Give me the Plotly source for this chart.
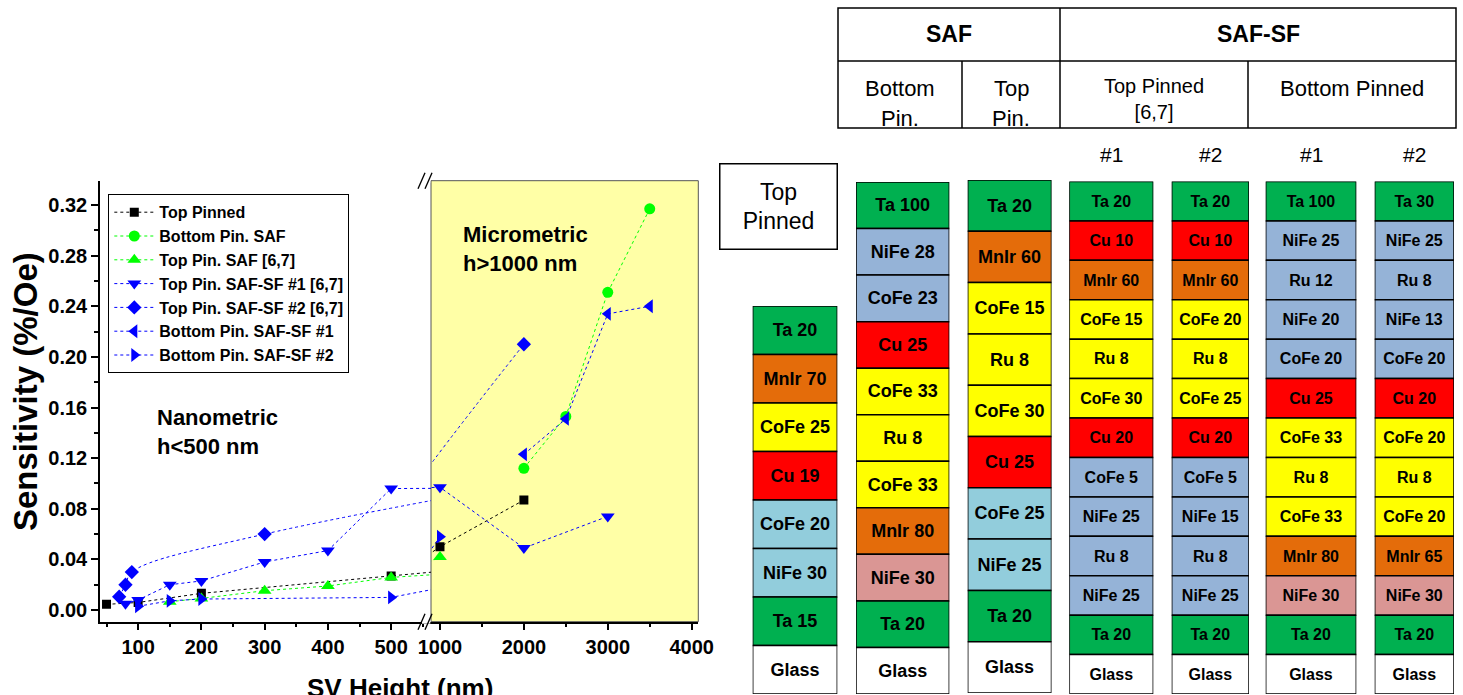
import plotly.graph_objects as go

W, H = 1463, 695

# ---------------- chart data ----------------
series_names = ["Top Pinned", "Bottom Pin. SAF", "Top Pin. SAF [6,7]",
                "Top Pin. SAF-SF #1 [6,7]", "Top Pin. SAF-SF #2 [6,7]",
                "Bottom Pin. SAF-SF #1", "Bottom Pin. SAF-SF #2"]
top_pinned_x = [50, 100, 200, 500, 1000, 2000]
top_pinned_y = [0.0045, 0.006, 0.0132, 0.0269, 0.050, 0.0869]
bottom_saf_x = [2000, 2500, 3000, 3500]
bottom_saf_y = [0.112, 0.153, 0.251, 0.317]
top_saf_x = [150, 200, 300, 400, 500, 1000]
top_saf_y = [0.0066, 0.0092, 0.0153, 0.019, 0.0258, 0.042]
top_sf1_x = [80, 100, 150, 200, 300, 400, 500, 1000, 2000, 3000]
top_sf1_y = [0.005, 0.008, 0.020, 0.023, 0.038, 0.047, 0.096, 0.097, 0.049, 0.074]
top_sf2_x = [70, 80, 90, 300, 2000]
top_sf2_y = [0.0105, 0.020, 0.030, 0.060, 0.210]
bottom_sf1_x = [2000, 2500, 3000, 3500]
bottom_sf1_y = [0.123, 0.151, 0.234, 0.240]
bottom_sf2_x = [100, 150, 200, 500, 1000]
bottom_sf2_y = [0.003, 0.0073, 0.0087, 0.010, 0.058]

nano_label = "Nanometric<br>h&lt;500 nm"
micro_label = "Micrometric<br>h&gt;1000 nm"
x_title = "SV Height (nm)"
y_title = "Sensitivity (%/Oe)"

# ---------------- layer stacks (top -> bottom) ----------------
stack_layers = [
    ["Ta 20", "MnIr 70", "CoFe 25", "Cu 19", "CoFe 20", "NiFe 30", "Ta 15", "Glass"],
    ["Ta 100", "NiFe 28", "CoFe 23", "Cu 25", "CoFe 33", "Ru 8", "CoFe 33", "MnIr 80", "NiFe 30", "Ta 20", "Glass"],
    ["Ta 20", "MnIr 60", "CoFe 15", "Ru 8", "CoFe 30", "Cu 25", "CoFe 25", "NiFe 25", "Ta 20", "Glass"],
    ["Ta 20", "Cu 10", "MnIr 60", "CoFe 15", "Ru 8", "CoFe 30", "Cu 20", "CoFe 5", "NiFe 25", "Ru 8", "NiFe 25", "Ta 20", "Glass"],
    ["Ta 20", "Cu 10", "MnIr 60", "CoFe 20", "Ru 8", "CoFe 25", "Cu 20", "CoFe 5", "NiFe 15", "Ru 8", "NiFe 25", "Ta 20", "Glass"],
    ["Ta 100", "NiFe 25", "Ru 12", "NiFe 20", "CoFe 20", "Cu 25", "CoFe 33", "Ru 8", "CoFe 33", "MnIr 80", "NiFe 30", "Ta 20", "Glass"],
    ["Ta 30", "NiFe 25", "Ru 8", "NiFe 13", "CoFe 20", "Cu 20", "CoFe 20", "Ru 8", "CoFe 20", "MnIr 65", "NiFe 30", "Ta 20", "Glass"],
]
stack_roles = [
    ["Ta", "AF", "SAF", "Cu", "FL", "FL", "Ta", "Glass"],
    ["Ta", "FL2", "FL2", "Cu", "SAF", "SAF", "SAF", "AF", "Buf", "Ta", "Glass"],
    ["Ta", "AF", "SAF", "SAF", "SAF", "Cu", "FL", "FL", "Ta", "Glass"],
    ["Ta", "Cu", "AF", "SAF", "SAF", "SAF", "Cu", "FL2", "FL2", "FL2", "FL2", "Ta", "Glass"],
    ["Ta", "Cu", "AF", "SAF", "SAF", "SAF", "Cu", "FL2", "FL2", "FL2", "FL2", "Ta", "Glass"],
    ["Ta", "FL2", "FL2", "FL2", "FL2", "Cu", "SAF", "SAF", "SAF", "AF", "Buf", "Ta", "Glass"],
    ["Ta", "FL2", "FL2", "FL2", "FL2", "Cu", "SAF", "SAF", "SAF", "AF", "Buf", "Ta", "Glass"],
]
stack_headers = ["", "", "", "#1", "#2", "#1", "#2"]
top_pinned_box = "Top<br>Pinned"

table_row1 = ["SAF", "SAF-SF"]
table_row2 = [["Bottom", "Pin."], ["Top", "Pin."], "Top Pinned<br>[6,7]", "Bottom Pinned"]

# ---------------- styles ----------------
FONT = "Liberation Sans, Arial, sans-serif"
role_colors = {"Ta": "#00B050", "AF": "#E46C0A", "SAF": "#FFFF00", "Cu": "#FF0000",
               "FL": "#92CDDC", "FL2": "#95B3D7", "Buf": "#DA9694", "Glass": "#FFFFFF"}
series_style = [
    dict(symbol="square", color="black", size=9, shape="linear"),
    dict(symbol="circle", color="#00FF00", size=11, shape="linear"),
    dict(symbol="triangle-up", color="#00FF00", size=12, shape="linear"),
    dict(symbol="triangle-down", color="#0000FF", size=12, shape="linear"),
    dict(symbol="diamond", color="#0000FF", size=11, shape="spline"),
    dict(symbol="triangle-left", color="#0000FF", size=12, shape="linear"),
    dict(symbol="triangle-right", color="#0000FF", size=12, shape="linear"),
]
series_data = [(top_pinned_x, top_pinned_y), (bottom_saf_x, bottom_saf_y), (top_saf_x, top_saf_y),
               (top_sf1_x, top_sf1_y), (top_sf2_x, top_sf2_y), (bottom_sf1_x, bottom_sf1_y),
               (bottom_sf2_x, bottom_sf2_y)]


def fx(p):
    return p / W


def fy(p):
    return 1 - p / H


fig = go.Figure()

# chart traces: each series drawn on both broken-axis segments
for axis in ["x", "x2"]:
    for name, (xs, ys), st in zip(series_names, series_data, series_style):
        fig.add_trace(go.Scatter(
            x=xs, y=ys, name=name, xaxis=axis, yaxis="y", mode="lines+markers",
            legendgroup=name, showlegend=(axis == "x"),
            line=dict(color=st["color"], width=1, dash="3px,3px", shape=st["shape"]),
            marker=dict(symbol=st["symbol"], color=st["color"], size=st["size"]),
            hoverinfo="x+y"))

# layer stack columns
col_x = [(752.7, 837.3), (856, 949.3), (967.7, 1051.5), (1069.3, 1153.3),
         (1171.7, 1249), (1265.7, 1356.3), (1374.7, 1454)]
col_y = [(306, 694), (182, 694), (180, 693), (181.5, 694), (181.5, 694), (181.5, 694), (181.5, 694)]
col_font = [18, 18, 18, 16, 16, 16, 16]

layout_axes = {}
for i, (labels, roles) in enumerate(zip(stack_layers, stack_roles)):
    n = len(labels)
    xa, ya = f"x{5 + i}", f"y{3 + i}"
    fig.add_trace(go.Bar(
        x=[0] * n, y=[1] * n, base=[n - 1 - k for k in range(n)], width=1,
        xaxis=xa, yaxis=ya, showlegend=False, hoverinfo="text", hovertext=labels,
        marker=dict(color=[role_colors[r] for r in roles], line=dict(color="black", width=1.5)),
        text=labels, textposition="inside", insidetextanchor="middle", textangle=0,
        textfont=dict(family=FONT, size=col_font[i], color="black", weight="bold"),
        cliponaxis=False))
    layout_axes[f"xaxis{5 + i}"] = dict(domain=[fx(col_x[i][0]), fx(col_x[i][1])], range=[-0.5, 0.5],
                                        visible=False, anchor=ya, fixedrange=True, automargin=False)
    layout_axes[f"yaxis{3 + i}"] = dict(domain=[fy(col_y[i][1]), fy(col_y[i][0])], range=[0, n],
                                        visible=False, anchor=xa, fixedrange=True, automargin=False)

axis_common = dict(showline=True, linecolor="black", linewidth=1.5, showgrid=False, zeroline=False,
                   tickcolor="black", tickwidth=1.5, fixedrange=True, automargin=False,
                   tickfont=dict(family=FONT, size=20, color="black", weight="bold"))
xL = [fx(100), fx(431)]
xR = [fx(431), fx(698.3)]
yD = [fy(621.7), fy(180.7)]
rngL = [39.7, 563]
rngR = [893, 4079]
rngY = [-0.0092, 0.3392]

fig.update_layout(
    width=W, height=H, margin=dict(l=0, r=0, t=0, b=0, pad=0, autoexpand=False),
    paper_bgcolor="white", plot_bgcolor="white", barmode="overlay",
    font=dict(family=FONT, color="black"),
    xaxis=dict(domain=xL, range=rngL, anchor="y", ticks="outside", ticklen=7, tick0=0, dtick=100,
               minor=dict(tick0=0, dtick=50, ticks="outside", ticklen=4, tickwidth=1.5, tickcolor="black"),
               **axis_common),
    xaxis2=dict(domain=xR, range=rngR, anchor="y", ticks="outside", ticklen=7, tick0=0, dtick=1000,
                minor=dict(tick0=0, dtick=500, ticks="outside", ticklen=4, tickwidth=1.5, tickcolor="black"),
                **axis_common),
    xaxis3=dict(overlaying="x", side="top", anchor="y", range=rngL, ticks="inside", ticklen=7, tick0=0,
                dtick=100, showticklabels=False,
                minor=dict(tick0=0, dtick=50, ticks="inside", ticklen=4, tickwidth=1.5, tickcolor="black"),
                **axis_common),
    xaxis4=dict(overlaying="x2", side="top", anchor="y", range=rngR, ticks="inside", ticklen=7, tick0=0,
                dtick=1000, showticklabels=False,
                minor=dict(tick0=0, dtick=500, ticks="inside", ticklen=4, tickwidth=1.5, tickcolor="black"),
                **axis_common),
    yaxis=dict(domain=yD, range=rngY, anchor="x", ticks="outside", ticklen=7, tick0=0, dtick=0.04,
               tickformat=".2f",
               minor=dict(tick0=0, dtick=0.02, ticks="outside", ticklen=4, tickwidth=1.5, tickcolor="black"),
               **axis_common),
    yaxis2=dict(overlaying="y", side="right", anchor="x2", range=rngY, ticks="inside", ticklen=6, tick0=0,
                dtick=0.04, showticklabels=False,
                minor=dict(tick0=0, dtick=0.02, ticks="inside", ticklen=6, tickwidth=1.5, tickcolor="black"),
                **axis_common),
    legend=dict(x=fx(108.3), y=fy(194.3), xanchor="left", yanchor="top", bgcolor="white",
                bordercolor="black", borderwidth=1, tracegroupgap=0, itemwidth=40,
                font=dict(family=FONT, size=16, color="black", weight="bold")),
    **layout_axes,
)

shapes = []
# micrometric panel background
shapes.append(dict(type="rect", xref="x2 domain", yref="y domain", x0=0, x1=1, y0=0, y1=1,
                   fillcolor="#FFFFA6", line=dict(color="#555555", width=1), layer="below"))
# axis break marks
for yc in (180.7, 621.7):
    shapes.append(dict(type="rect", xref="paper", yref="paper", x0=fx(422), x1=fx(430.3),
                       y0=fy(yc + 2), y1=fy(yc - 2), fillcolor="white", line=dict(width=0), layer="above"))
    for dx in (0, 7):
        shapes.append(dict(type="line", xref="paper", yref="paper", x0=fx(418 + dx), y0=fy(yc + 8),
                           x1=fx(425 + dx), y1=fy(yc - 8), line=dict(color="black", width=1.3), layer="above"))
# table grid
T_L, T_R, T_T, T_M, T_B = 838, 1456, 8, 61, 128
shapes.append(dict(type="rect", xref="paper", yref="paper", x0=fx(T_L), x1=fx(T_R), y0=fy(T_B), y1=fy(T_T),
                   line=dict(color="black", width=1.5)))
shapes.append(dict(type="line", xref="paper", yref="paper", x0=fx(T_L), x1=fx(T_R), y0=fy(T_M), y1=fy(T_M),
                   line=dict(color="black", width=1.5)))
for xv, ytop in ((1060, T_T), (962, T_M), (1248, T_M)):
    shapes.append(dict(type="line", xref="paper", yref="paper", x0=fx(xv), x1=fx(xv), y0=fy(T_B), y1=fy(ytop),
                       line=dict(color="black", width=1.5)))
fig.update_layout(shapes=shapes)

ann = []
ann.append(dict(text=nano_label, x=fx(155), y=fy(431.7), xref="paper", yref="paper", xanchor="left",
                yanchor="middle", align="left", showarrow=False,
                font=dict(family=FONT, size=22, color="black", weight="bold")))
ann.append(dict(text=micro_label, x=fx(461), y=fy(248.7), xref="paper", yref="paper", xanchor="left",
                yanchor="middle", align="left", showarrow=False,
                font=dict(family=FONT, size=22, color="black", weight="bold")))
ann.append(dict(text=x_title, x=fx(400), y=fy(688), xref="paper", yref="paper", xanchor="center",
                yanchor="middle", showarrow=False, font=dict(family=FONT, size=26, color="black", weight="bold")))
ann.append(dict(text=y_title, x=fx(25), y=fy(392), xref="paper", yref="paper", xanchor="center",
                yanchor="middle", textangle=-90, showarrow=False,
                font=dict(family=FONT, size=33, color="black", weight="bold")))
# "Top Pinned" box
ann.append(dict(text=top_pinned_box, x=fx(779), y=fy(207), xref="paper", yref="paper", xanchor="center",
                yanchor="middle", showarrow=False, width=114, height=82, bordercolor="black", borderwidth=1.5,
                bgcolor="white", font=dict(family=FONT, size=23, color="black")))
# stack headers
for i, hdr in enumerate(stack_headers):
    if hdr:
        cx = (col_x[i][0] + col_x[i][1]) / 2
        ann.append(dict(text=hdr, x=fx(cx), y=fy(154), xref="paper", yref="paper", xanchor="center",
                        yanchor="middle", showarrow=False, font=dict(family=FONT, size=21, color="black")))
# table texts
for txt, (a, b) in zip(table_row1, ((T_L, 1060), (1060, T_R))):
    ann.append(dict(text=txt, x=fx((a + b) / 2), y=fy((T_T + T_M) / 2), xref="paper", yref="paper",
                    xanchor="center", yanchor="middle", showarrow=False,
                    font=dict(family=FONT, size=23, color="black", weight="bold")))
row2_cells = ((T_L, 962), (962, 1060), (1060, 1248), (1248, T_R))
for cell, (a, b) in zip(table_row2, row2_cells):
    cx = fx((a + b) / 2)
    if isinstance(cell, list):
        ann.append(dict(text=cell[0], x=cx, y=fy(88), xref="paper", yref="paper", xanchor="center",
                        yanchor="middle", showarrow=False, font=dict(family=FONT, size=22, color="black")))
        ann.append(dict(text=cell[1], x=cx, y=fy(105), xref="paper", yref="paper", xanchor="center",
                        yanchor="top", showarrow=False, height=21, valign="top", borderpad=0,
                        font=dict(family=FONT, size=22, color="black")))
    else:
        small = "[6,7]" in cell
        ann.append(dict(text=cell, x=cx, y=fy(99 if small else 88), xref="paper", yref="paper",
                        xanchor="center", yanchor="middle", showarrow=False,
                        font=dict(family=FONT, size=20 if small else 22, color="black")))
fig.update_layout(annotations=ann)

fig.write_html("out.html", config={"displayModeBar": False},
               post_script="document.body.style.margin='0';")
